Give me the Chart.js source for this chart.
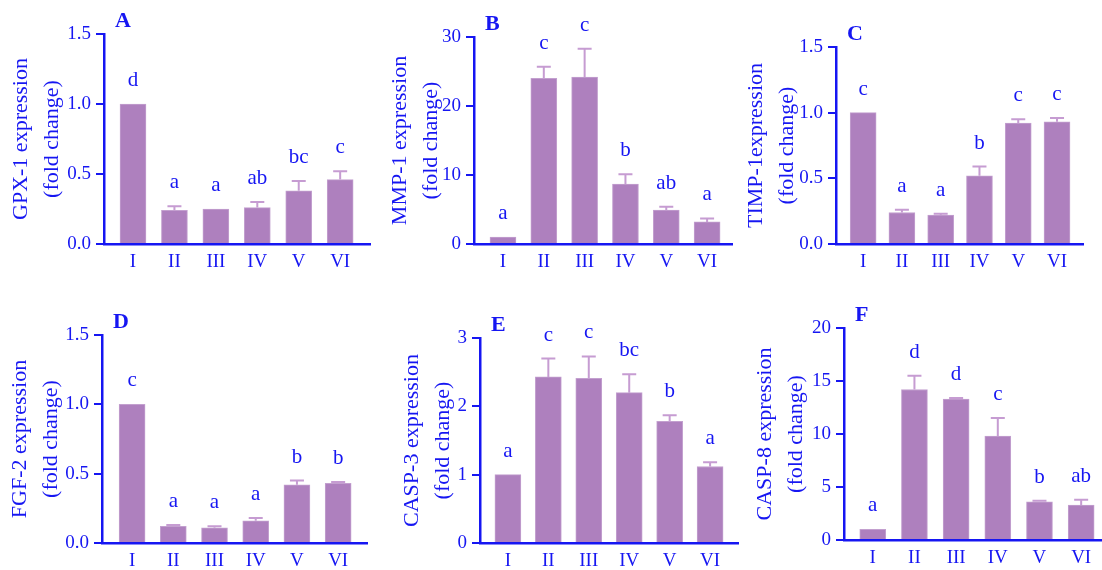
<!DOCTYPE html>
<html>
<head>
<meta charset="utf-8">
<script src="https://cdn.jsdelivr.net/npm/chart.js@4.4.1/dist/chart.umd.min.js"></script>
<style>
  html, body { margin: 0; padding: 0; background: #fff; }
  #wrap { position: relative; width: 1102px; height: 570px; overflow: hidden; }
  #wrap canvas { position: absolute; }
</style>
</head>
<body>
<div id="wrap"></div>
<script>
// groups on the x axis
const groups = ['I', 'II', 'III', 'IV', 'V', 'VI'];

// A - GPX-1
const gpx1 = [1.00, 0.24, 0.25, 0.26, 0.38, 0.46];
const gpx1Err = [0, 0.03, 0, 0.04, 0.07, 0.06];
const gpx1Sig = ['d', 'a', 'a', 'ab', 'bc', 'c'];

// B - MMP-1
const mmp1 = [1.0, 24.0, 24.2, 8.7, 4.9, 3.2];
const mmp1Err = [0, 1.7, 4.1, 1.4, 0.5, 0.5];
const mmp1Sig = ['a', 'c', 'c', 'b', 'ab', 'a'];

// C - TIMP-1
const timp1 = [1.00, 0.24, 0.22, 0.52, 0.92, 0.93];
const timp1Err = [0, 0.02, 0.01, 0.07, 0.03, 0.03];
const timp1Sig = ['c', 'a', 'a', 'b', 'c', 'c'];

// D - FGF-2
const fgf2 = [1.00, 0.12, 0.11, 0.16, 0.42, 0.43];
const fgf2Err = [0, 0.01, 0.01, 0.02, 0.03, 0.01];
const fgf2Sig = ['c', 'a', 'a', 'a', 'b', 'b'];

// E - CASP-3
const casp3 = [1.00, 2.43, 2.41, 2.20, 1.78, 1.12];
const casp3Err = [0, 0.27, 0.32, 0.27, 0.09, 0.06];
const casp3Sig = ['a', 'c', 'c', 'bc', 'b', 'a'];

// F - CASP-8
const casp8 = [1.0, 14.2, 13.3, 9.8, 3.6, 3.3];
const casp8Err = [0, 1.3, 0.1, 1.7, 0.1, 0.5];
const casp8Sig = ['a', 'd', 'd', 'c', 'b', 'ab'];

// y axis ticks
const ticksA = [0, 0.5, 1.0, 1.5];
const ticksB = [0, 10, 20, 30];
const ticksE = [0, 1, 2, 3];
const ticksF = [0, 5, 10, 15, 20];

const BLUE = '#1616f2';
const BAR = '#ae80be';
const ERR = '#c69cd2';
const SERIF = "'Liberation Serif', 'Times New Roman', serif";

// panel layout (page px): canvas box, plot area, centre of first title line, x range
const panels = [
  { tag: 'A', title: ['GPX-1 expression', '(fold change)'], values: gpx1, errors: gpx1Err, sig: gpx1Sig, ticks: ticksA, digits: 1,
    box: [0, 0, 374, 285], area: [104, 34, 370, 244], titleX: 21, xr: [-0.70, 5.72] },
  { tag: 'B', title: ['MMP-1 expression', '(fold change)'], values: mmp1, errors: mmp1Err, sig: mmp1Sig, ticks: ticksB, digits: 0,
    box: [372, 0, 364, 285], area: [474, 37, 732, 244], titleX: 400, xr: [-0.71, 5.61] },
  { tag: 'C', title: ['TIMP-1expression', '(fold change)'], values: timp1, errors: timp1Err, sig: timp1Sig, ticks: ticksA, digits: 1,
    box: [738, 0, 364, 285], area: [836, 47, 1083, 244], titleX: 756, xr: [-0.70, 5.67] },
  { tag: 'D', title: ['FGF-2 expression', '(fold change)'], values: fgf2, errors: fgf2Err, sig: fgf2Sig, ticks: ticksA, digits: 1,
    box: [0, 285, 372, 285], area: [102, 335, 367, 543], titleX: 20, xr: [-0.73, 5.70] },
  { tag: 'E', title: ['CASP-3 expression', '(fold change)'], values: casp3, errors: casp3Err, sig: casp3Sig, ticks: ticksE, digits: 0,
    box: [372, 285, 370, 285], area: [480, 338, 738, 543], titleX: 412, xr: [-0.69, 5.69] },
  { tag: 'F', title: ['CASP-8 expression', '(fold change)'], values: casp8, errors: casp8Err, sig: casp8Sig, ticks: ticksF, digits: 0,
    box: [740, 285, 362, 285], area: [844, 328, 1102, 540], titleX: 765, xr: [-0.69, 5.5] }
];

// error bars (upper half), significance letters and the panel tag
const errorBars = {
  id: 'errorBars',
  afterDatasetsDraw(chart) {
    const p = chart.options.plugins.errorBars;
    const ys = chart.scales.y;
    const ctx = chart.ctx;
    const meta = chart.getDatasetMeta(0);
    ctx.save();
    meta.data.forEach((bar, i) => {
      const v = p.values[i];
      const e = p.errors[i];
      const yTop = ys.getPixelForValue(v + e);
      if (e > 0) {
        ctx.strokeStyle = ERR;
        ctx.lineWidth = 2;
        ctx.beginPath();
        ctx.moveTo(bar.x, bar.y);
        ctx.lineTo(bar.x, yTop);
        ctx.moveTo(bar.x - 7, yTop);
        ctx.lineTo(bar.x + 7, yTop);
        ctx.stroke();
      }
      ctx.fillStyle = BLUE;
      ctx.font = '21px ' + SERIF;
      ctx.textAlign = 'center';
      ctx.textBaseline = 'alphabetic';
      ctx.fillText(p.sig[i], bar.x, yTop - 18);
    });
    const a = chart.chartArea;
    ctx.font = 'bold 22px ' + SERIF;
    ctx.textAlign = 'left';
    ctx.fillText(p.tag, a.left + 11, a.top - 7);
    ctx.restore();
  }
};

const wrap = document.getElementById('wrap');

panels.forEach(p => {
  const [bx, by, bw, bh] = p.box;
  const [al, at, ar, ab] = p.area;
  const cv = document.createElement('canvas');
  cv.width = bw;
  cv.height = bh;
  cv.style.left = bx + 'px';
  cv.style.top = by + 'px';
  wrap.appendChild(cv);

  const xAxisH = 24;
  const yMax = p.ticks[p.ticks.length - 1];

  new Chart(cv.getContext('2d'), {
    type: 'bar',
    data: {
      datasets: [{
        data: p.values.map((v, i) => ({ x: i, y: v })),
        backgroundColor: BAR,
        borderColor: '#c3a0cf',
        borderWidth: 1,
        barThickness: 26
      }]
    },
    options: {
      responsive: false,
      animation: false,
      layout: {
        padding: {
          left: 0,
          top: at - by,
          right: Math.max(0, bx + bw - ar),
          bottom: Math.max(0, by + bh - ab - xAxisH)
        }
      },
      plugins: {
        legend: { display: false },
        tooltip: { enabled: false },
        errorBars: { values: p.values, errors: p.errors, sig: p.sig, tag: p.tag }
      },
      scales: {
        x: {
          type: 'linear',
          min: p.xr[0],
          max: p.xr[1],
          offset: false,
          afterBuildTicks: axis => { axis.ticks = groups.map((g, i) => ({ value: i })); },
          afterFit: axis => { axis.height = xAxisH; },
          grid: { display: false, drawTicks: false },
          border: { display: true, color: BLUE, width: 2.5 },
          ticks: {
            autoSkip: false,
            maxRotation: 0,
            padding: 7,
            color: BLUE,
            font: { family: SERIF, size: 19 },
            callback: v => groups[v]
          }
        },
        y: {
          min: 0,
          max: yMax,
          afterBuildTicks: axis => { axis.ticks = p.ticks.map(t => ({ value: t })); },
          afterFit: axis => { axis.width = al - bx; },
          grid: { drawOnChartArea: false, drawTicks: true, tickLength: 8, color: BLUE, lineWidth: 2 },
          border: { display: true, color: BLUE, width: 2.5 },
          ticks: {
            padding: 5,
            color: BLUE,
            font: { family: SERIF, size: 19 },
            callback: v => Number(v).toFixed(p.digits)
          },
          title: {
            display: true,
            text: p.title,
            color: BLUE,
            font: { family: SERIF, size: 22, lineHeight: 1.4 },
            padding: { top: p.titleX - 15.4 - bx, bottom: 0 }
          }
        }
      }
    },
    plugins: [errorBars]
  });
});
</script>
</body>
</html>
